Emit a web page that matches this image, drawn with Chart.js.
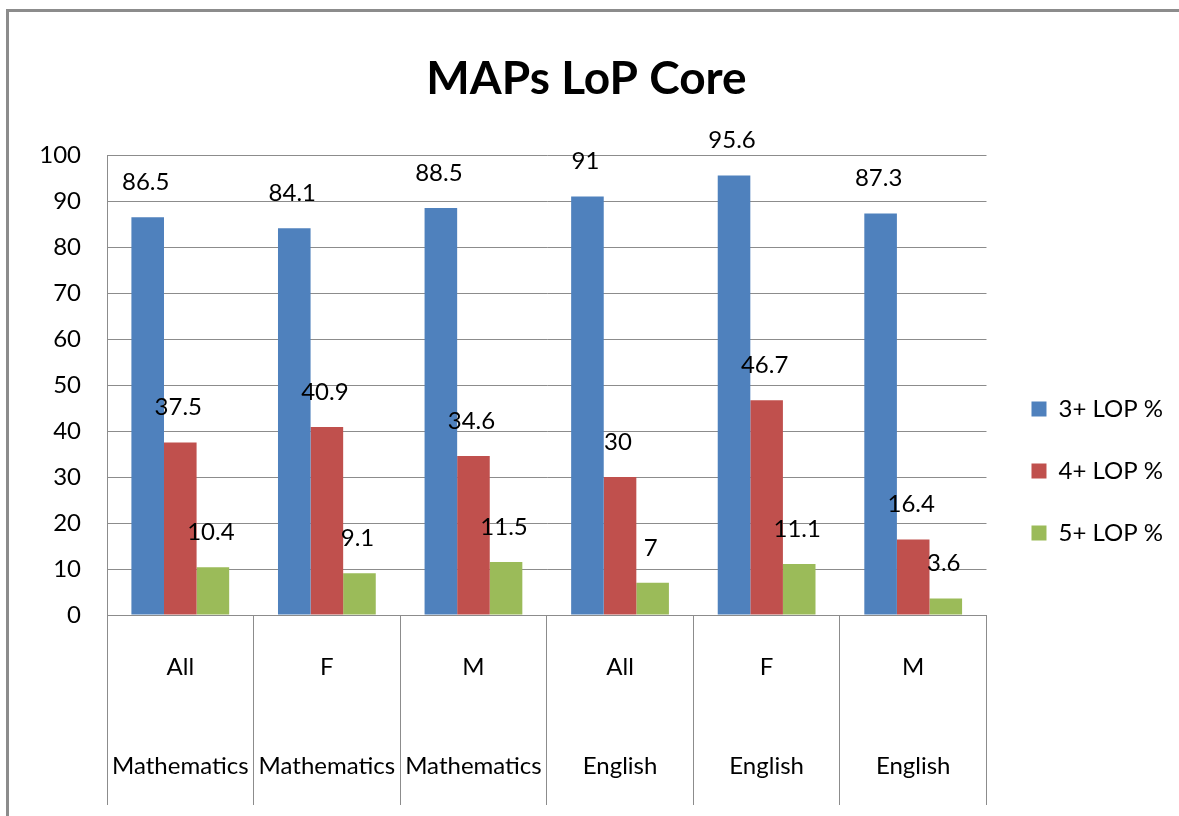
<!DOCTYPE html>
<html>
<head>
<meta charset="utf-8">
<script src="https://cdn.jsdelivr.net/npm/chart.js@4"></script>
<style>
  body { margin: 0; background: #fff; }
  #frame { position: absolute; left: 6px; top: 9px; width: 1173px; height: 807px;
           border-top: 3px solid #8c8c8c; border-left: 3px solid #8c8c8c; box-sizing: border-box; }
  #wrap { position: absolute; left: 0; top: 0; width: 1179px; height: 816px; }
</style>
</head>
<body>
<div id="frame"></div>
<div id="wrap"><canvas id="lop-chart" width="1179" height="816"></canvas></div>
<script>
// MAPs LoP Core grouped bars

var groups = ['All', 'F', 'M', 'All', 'F', 'M'];
var subjects = ['Mathematics', 'Mathematics', 'Mathematics', 'English', 'English', 'English'];
var lop3 = [86.5, 84.1, 88.5, 91, 95.6, 87.3];
var lop4 = [37.5, 40.9, 34.6, 30, 46.7, 16.4];
var lop5 = [10.4, 9.1, 11.5, 7, 11.1, 3.6];
var yTicks = [0, 10, 20, 30, 40, 50, 60, 70, 80, 90, 100];

var fontName = 'Lato, "Open Sans", sans-serif';

// value labels above each bar
var valueLabels = {
  id: 'valueLabels',
  afterDatasetsDraw: function(chart) {
    var ctx = chart.ctx;
    ctx.save();
    ctx.font = '24px ' + fontName;
    ctx.fillStyle = '#000';
    ctx.textAlign = 'center';
    ctx.textBaseline = 'middle';
    chart.data.datasets.forEach(function(ds, i) {
      chart.getDatasetMeta(i).data.forEach(function(bar, j) {
        ctx.fillText(String(ds.data[j]), bar.x - 2, bar.y - 35);
      });
    });
    ctx.restore();
  }
};

// nudge the legend box a bit right and down
var legendNudge = {
  id: 'legendNudge',
  afterLayout: function(chart) {
    var lg = chart.legend;
    if (!lg) return;
    lg.left += 7; lg.right += 7;
    lg.top += 57; lg.bottom += 57;
  }
};

var ctx = document.getElementById('lop-chart').getContext('2d');
var myChart = new Chart(ctx, {
  type: 'bar',
  data: {
    labels: groups.map(function(g, i) { return [g, subjects[i]]; }),
    datasets: [
      { label: '3+ LOP %', data: lop3, backgroundColor: '#4F81BD' },
      { label: '4+ LOP %', data: lop4, backgroundColor: '#C0504D' },
      { label: '5+ LOP %', data: lop5, backgroundColor: '#9BBB59' }
    ]
  },
  options: {
    responsive: false,
    animation: false,
    layout: { padding: { left: 7, top: 12, right: 13, bottom: 0 } },
    datasets: { bar: { categoryPercentage: 0.667, barPercentage: 1 } },
    plugins: {
      title: {
        display: true,
        text: 'MAPs LoP Core',
        color: '#000',
        font: { family: fontName, size: 46, weight: 'bold' },
        padding: { top: 40, bottom: 48 }
      },
      legend: {
        position: 'right',
        labels: {
          color: '#000',
          font: { family: fontName, size: 24 },
          boxWidth: 15,
          boxHeight: 15,
          padding: 38
        }
      },
      tooltip: { enabled: false }
    },
    scales: {
      x: {
        grid: { offset: true, drawOnChartArea: false, drawTicks: true, tickLength: 190, color: '#8c8c8c' },
        border: { color: '#8c8c8c' },
        ticks: {
          color: '#000',
          font: { family: fontName, size: 24, lineHeight: 4.125 },
          padding: -187,
          maxRotation: 0,
          autoSkip: false
        },
        afterFit: function(s) { s.height = 201; }
      },
      y: {
        min: 0,
        max: 100,
        afterBuildTicks: function(s) { s.ticks = yTicks.map(function(v) { return { value: v }; }); },
        grid: { color: '#8c8c8c', drawTicks: false },
        border: { color: '#8c8c8c' },
        ticks: { color: '#000', font: { family: fontName, size: 24 }, padding: 26 },
        afterFit: function(s) { s.width = 100; }
      }
    }
  },
  plugins: [valueLabels, legendNudge]
});
</script>
</body>
</html>
